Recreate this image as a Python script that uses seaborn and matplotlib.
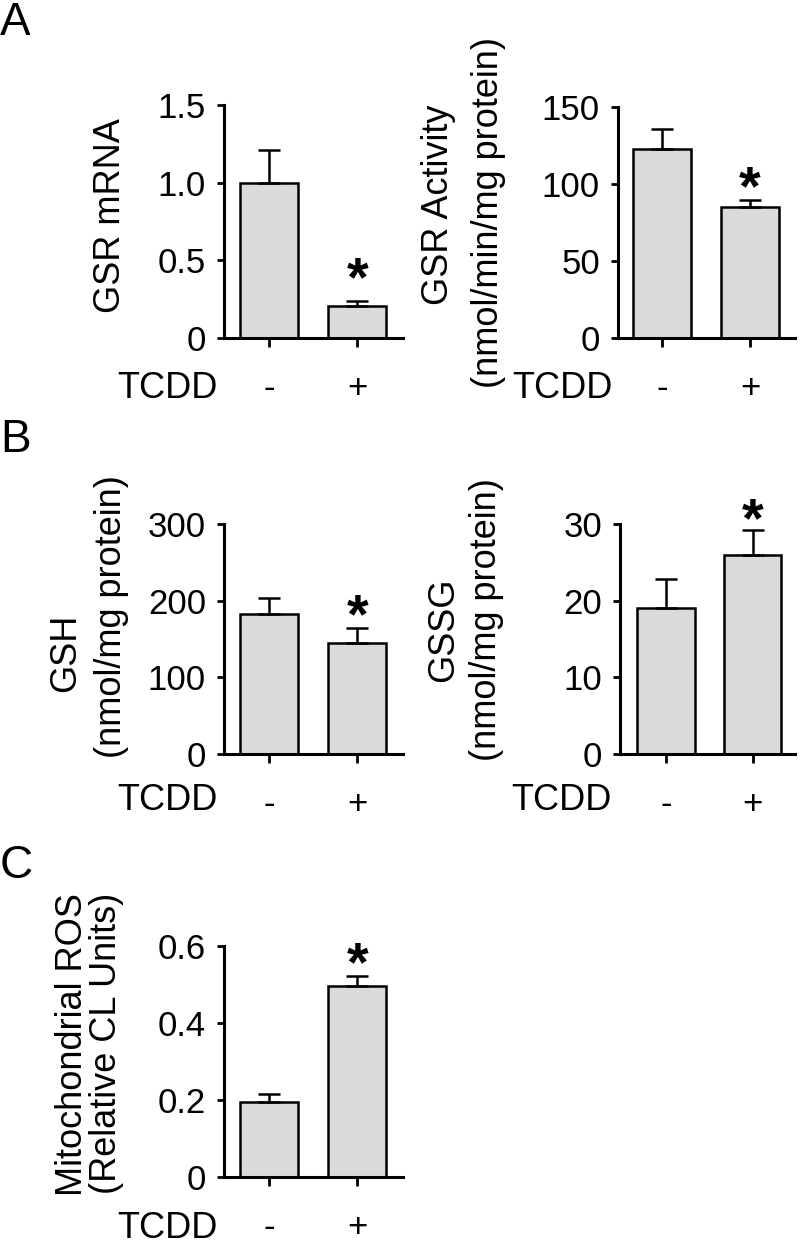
import matplotlib
matplotlib.use("Agg")
import matplotlib.pyplot as plt
import seaborn as sns

# TCDD treatment groups
treatment = ["-", "+"]

# A: GSR expression and activity (mean, SEM)
gsr_mrna = [1.00, 0.206]
gsr_mrna_sem = [0.21, 0.034]
gsr_activity = [123, 85]
gsr_activity_sem = [13, 4.6]

# B: glutathione levels
gsh = [182, 145]
gsh_sem = [22, 19]
gssg = [19.0, 25.9]
gssg_sem = [3.8, 3.3]

# C: mitochondrial ROS
mito_ros = [0.195, 0.496]
mito_ros_sem = [0.021, 0.026]

yticks_mrna = [0, 0.5, 1.0, 1.5]
yticklabels_mrna = ["0", "0.5", "1.0", "1.5"]
yticks_activity = [0, 50, 100, 150]
yticks_gsh = [0, 100, 200, 300]
yticks_gssg = [0, 10, 20, 30]
yticks_ros = [0, 0.2, 0.4, 0.6]
yticklabels_ros = ["0", "0.2", "0.4", "0.6"]

sns.set_style("ticks")
plt.rcParams["font.family"] = ["Liberation Sans", "DejaVu Sans"]
plt.rcParams.update({
    "text.color": "black",
    "axes.labelcolor": "black",
    "axes.edgecolor": "black",
    "xtick.color": "black",
    "ytick.color": "black",
})

W, H = 800, 1246
fig = plt.figure(figsize=(W / 100, H / 100), dpi=100)

BAR_GRAY = "#d9dadc"
LW = 1.8


def px_axes(x0, x1, ytop, yzero):
    """Axes placed by pixel box (top-left origin)."""
    return fig.add_axes([x0 / W, 1 - yzero / H, (x1 - x0) / W, (yzero - ytop) / H])


def fig_text(x, y, s, **kw):
    fig.text(x / W, 1 - y / H, s, **kw)


def bar_panel(ax, vals, sems, ymax, ticks, ticklabels, xlim, star_off):
    sns.barplot(x=treatment, y=vals, color=BAR_GRAY, saturation=1,
                edgecolor="black", linewidth=LW, width=0.66,
                errorbar=None, ax=ax)
    ax.errorbar(range(len(vals)), vals, yerr=[[0] * len(sems), sems],
                fmt="none", ecolor="black", elinewidth=LW,
                capsize=8, capthick=LW, zorder=3)
    ax.annotate("*", xy=(1, vals[1] + sems[1]), xytext=(0, star_off),
                textcoords="offset points", ha="center", va="center",
                fontsize=40, fontweight="bold")
    ax.set_ylim(0, ymax)
    ax.set_xlim(*xlim)
    ax.set_yticks(ticks)
    ax.set_yticklabels(ticklabels)
    ax.set_ylabel("")
    sns.despine(ax=ax)
    for side in ["left", "bottom"]:
        ax.spines[side].set_linewidth(2.2)
    ax.tick_params(axis="y", length=5, width=2, pad=8, labelsize=25)
    ax.tick_params(axis="x", length=6.5, width=2, pad=18, labelsize=25)
    ax.patch.set_alpha(0)


# panel A
ax1 = px_axes(224, 403, 105, 338)
bar_panel(ax1, gsr_mrna, gsr_mrna_sem, 1.5, yticks_mrna, yticklabels_mrna,
          (-0.51, 1.52), 14)
ax2 = px_axes(618, 795, 107, 338)
bar_panel(ax2, gsr_activity, gsr_activity_sem, 150, yticks_activity,
          [str(t) for t in yticks_activity], (-0.5, 1.51), 7)

# panel B
ax3 = px_axes(224, 403, 524, 754)
bar_panel(ax3, gsh, gsh_sem, 300, yticks_gsh, [str(t) for t in yticks_gsh],
          (-0.51, 1.52), 7)
ax4 = px_axes(620, 795, 524, 754)
bar_panel(ax4, gssg, gssg_sem, 30, yticks_gssg, [str(t) for t in yticks_gssg],
          (-0.53, 1.49), 6)

# panel C
ax5 = px_axes(224, 403, 946, 1177)
bar_panel(ax5, mito_ros, mito_ros_sem, 0.6, yticks_ros, yticklabels_ros,
          (-0.51, 1.52), 7)

# y labels (rotated, anchored on baseline)
lab = dict(rotation=90, rotation_mode="anchor", ha="center", va="baseline",
           fontsize=26)
fig_text(120, 216, "GSR mRNA", **lab)
fig_text(448, 205, "GSR Activity", **lab)
fig_text(498, 213, "(nmol/min/mg protein)", **lab)
fig_text(75, 653, "GSH", **lab)
fig_text(121, 617, "(nmol/mg protein)", **lab)
fig_text(453, 630, "GSSG", **lab)
fig_text(496, 620, "(nmol/mg protein)", **lab)
fig_text(82, 1045, "Mitochondrial ROS", **lab)
fig_text(116, 1043, "(Relative CL Units)", **lab)

# TCDD row labels
for x, y in [(218, 398), (613, 398), (218, 810), (612, 810), (218, 1238)]:
    fig_text(x, y, "TCDD", ha="right", va="baseline", fontsize=26)

# panel letters
for y, s in [(35, "A"), (452, "B"), (878, "C")]:
    fig_text(0, y, s, ha="left", va="baseline", fontsize=33)

fig.savefig("out.png", dpi=100)
